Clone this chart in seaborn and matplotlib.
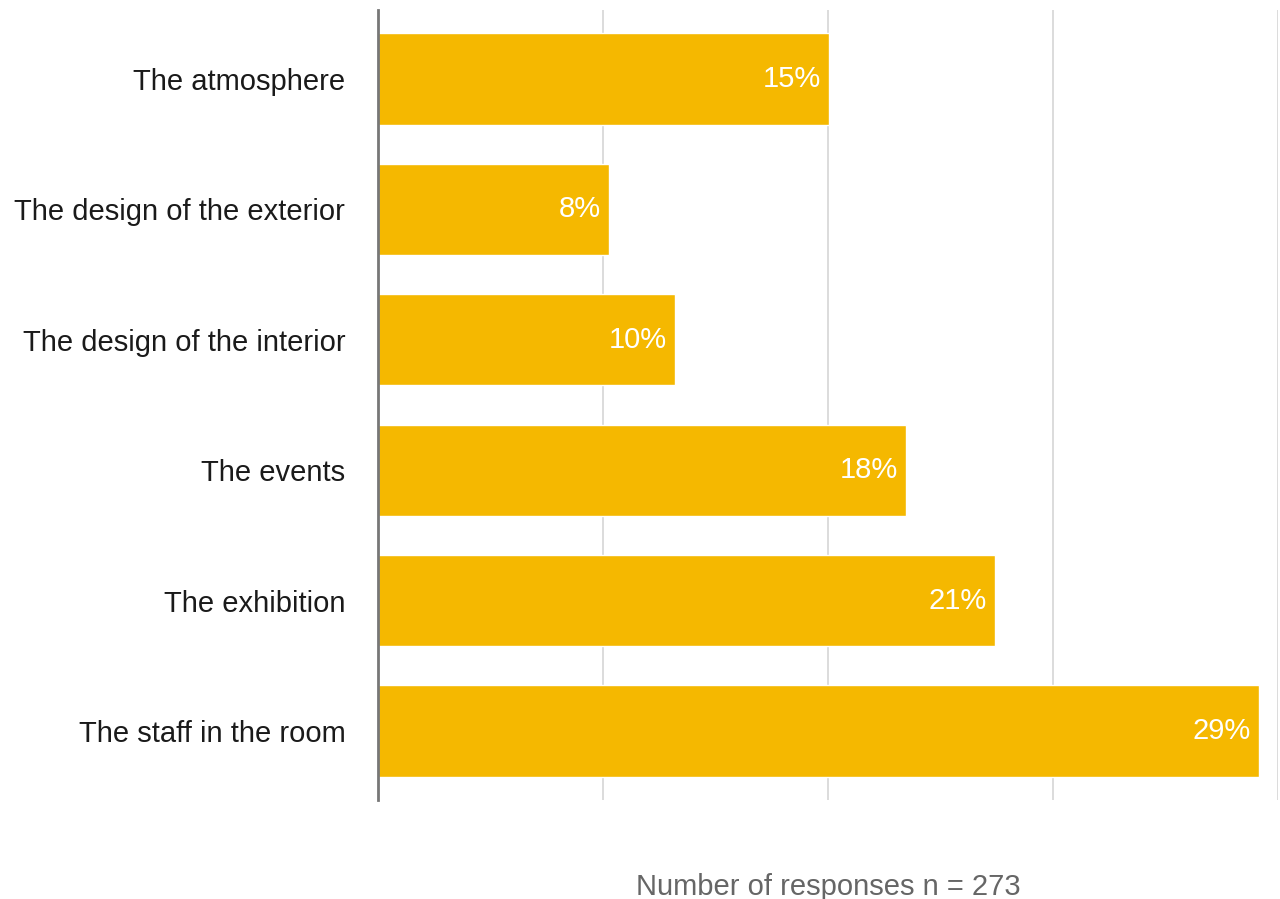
import matplotlib
matplotlib.use("Agg")
import matplotlib.pyplot as plt
import seaborn as sns
import pandas as pd

# Survey: what visitors liked most
categories = [
    "The atmosphere",
    "The design of the exterior",
    "The design of the interior",
    "The events",
    "The exhibition",
    "The staff in the room",
]
shares = [15.04, 7.71, 9.9, 17.6, 20.56, 29.37]
n_responses = 273

bar_color = "#F5B800"
grid_ticks = [0, 7.5, 15, 22.5, 30]

sns.set_theme(style="white")
plt.rcParams["font.family"] = ["Liberation Sans", "DejaVu Sans"]

df = pd.DataFrame({"category": categories, "share": shares})

fig = plt.figure(figsize=(12.8, 8.99), dpi=100)
ax = fig.add_axes([378 / 1280, 1 - 800 / 899, 900 / 1280, 790 / 899])

sns.barplot(data=df, x="share", y="category", orient="h", color=bar_color,
            saturation=1, width=0.7, ax=ax, zorder=3)

ax.set_xlim(0, 30)
ax.set_ylim(5.53, -0.53)
ax.set_xticks(grid_ticks)
ax.set_xticklabels([])
ax.tick_params(axis="x", length=0)
ax.tick_params(axis="y", length=0, pad=23.5, labelsize=21, labelcolor="#1a1a1a")
ax.grid(axis="x", color="#dcdcdc", linewidth=1.4, zorder=0)
ax.grid(axis="y", visible=False)

for side in ("top", "right", "bottom"):
    ax.spines[side].set_visible(False)
ax.spines["left"].set_color("#777777")
ax.spines["left"].set_linewidth(2)
ax.spines["left"].set_zorder(4)

for i, v in enumerate(shares):
    ax.annotate(f"{round(v):d}%", xy=(v, i), xytext=(-6, 0),
                textcoords="offset points", ha="right", va="center",
                color="white", fontsize=21, zorder=5)

ax.set_ylabel("")
ax.set_xlabel(f"Number of responses n = {n_responses}", fontsize=21,
              color="#666666", labelpad=49)

fig.savefig("out.png", dpi=100)
